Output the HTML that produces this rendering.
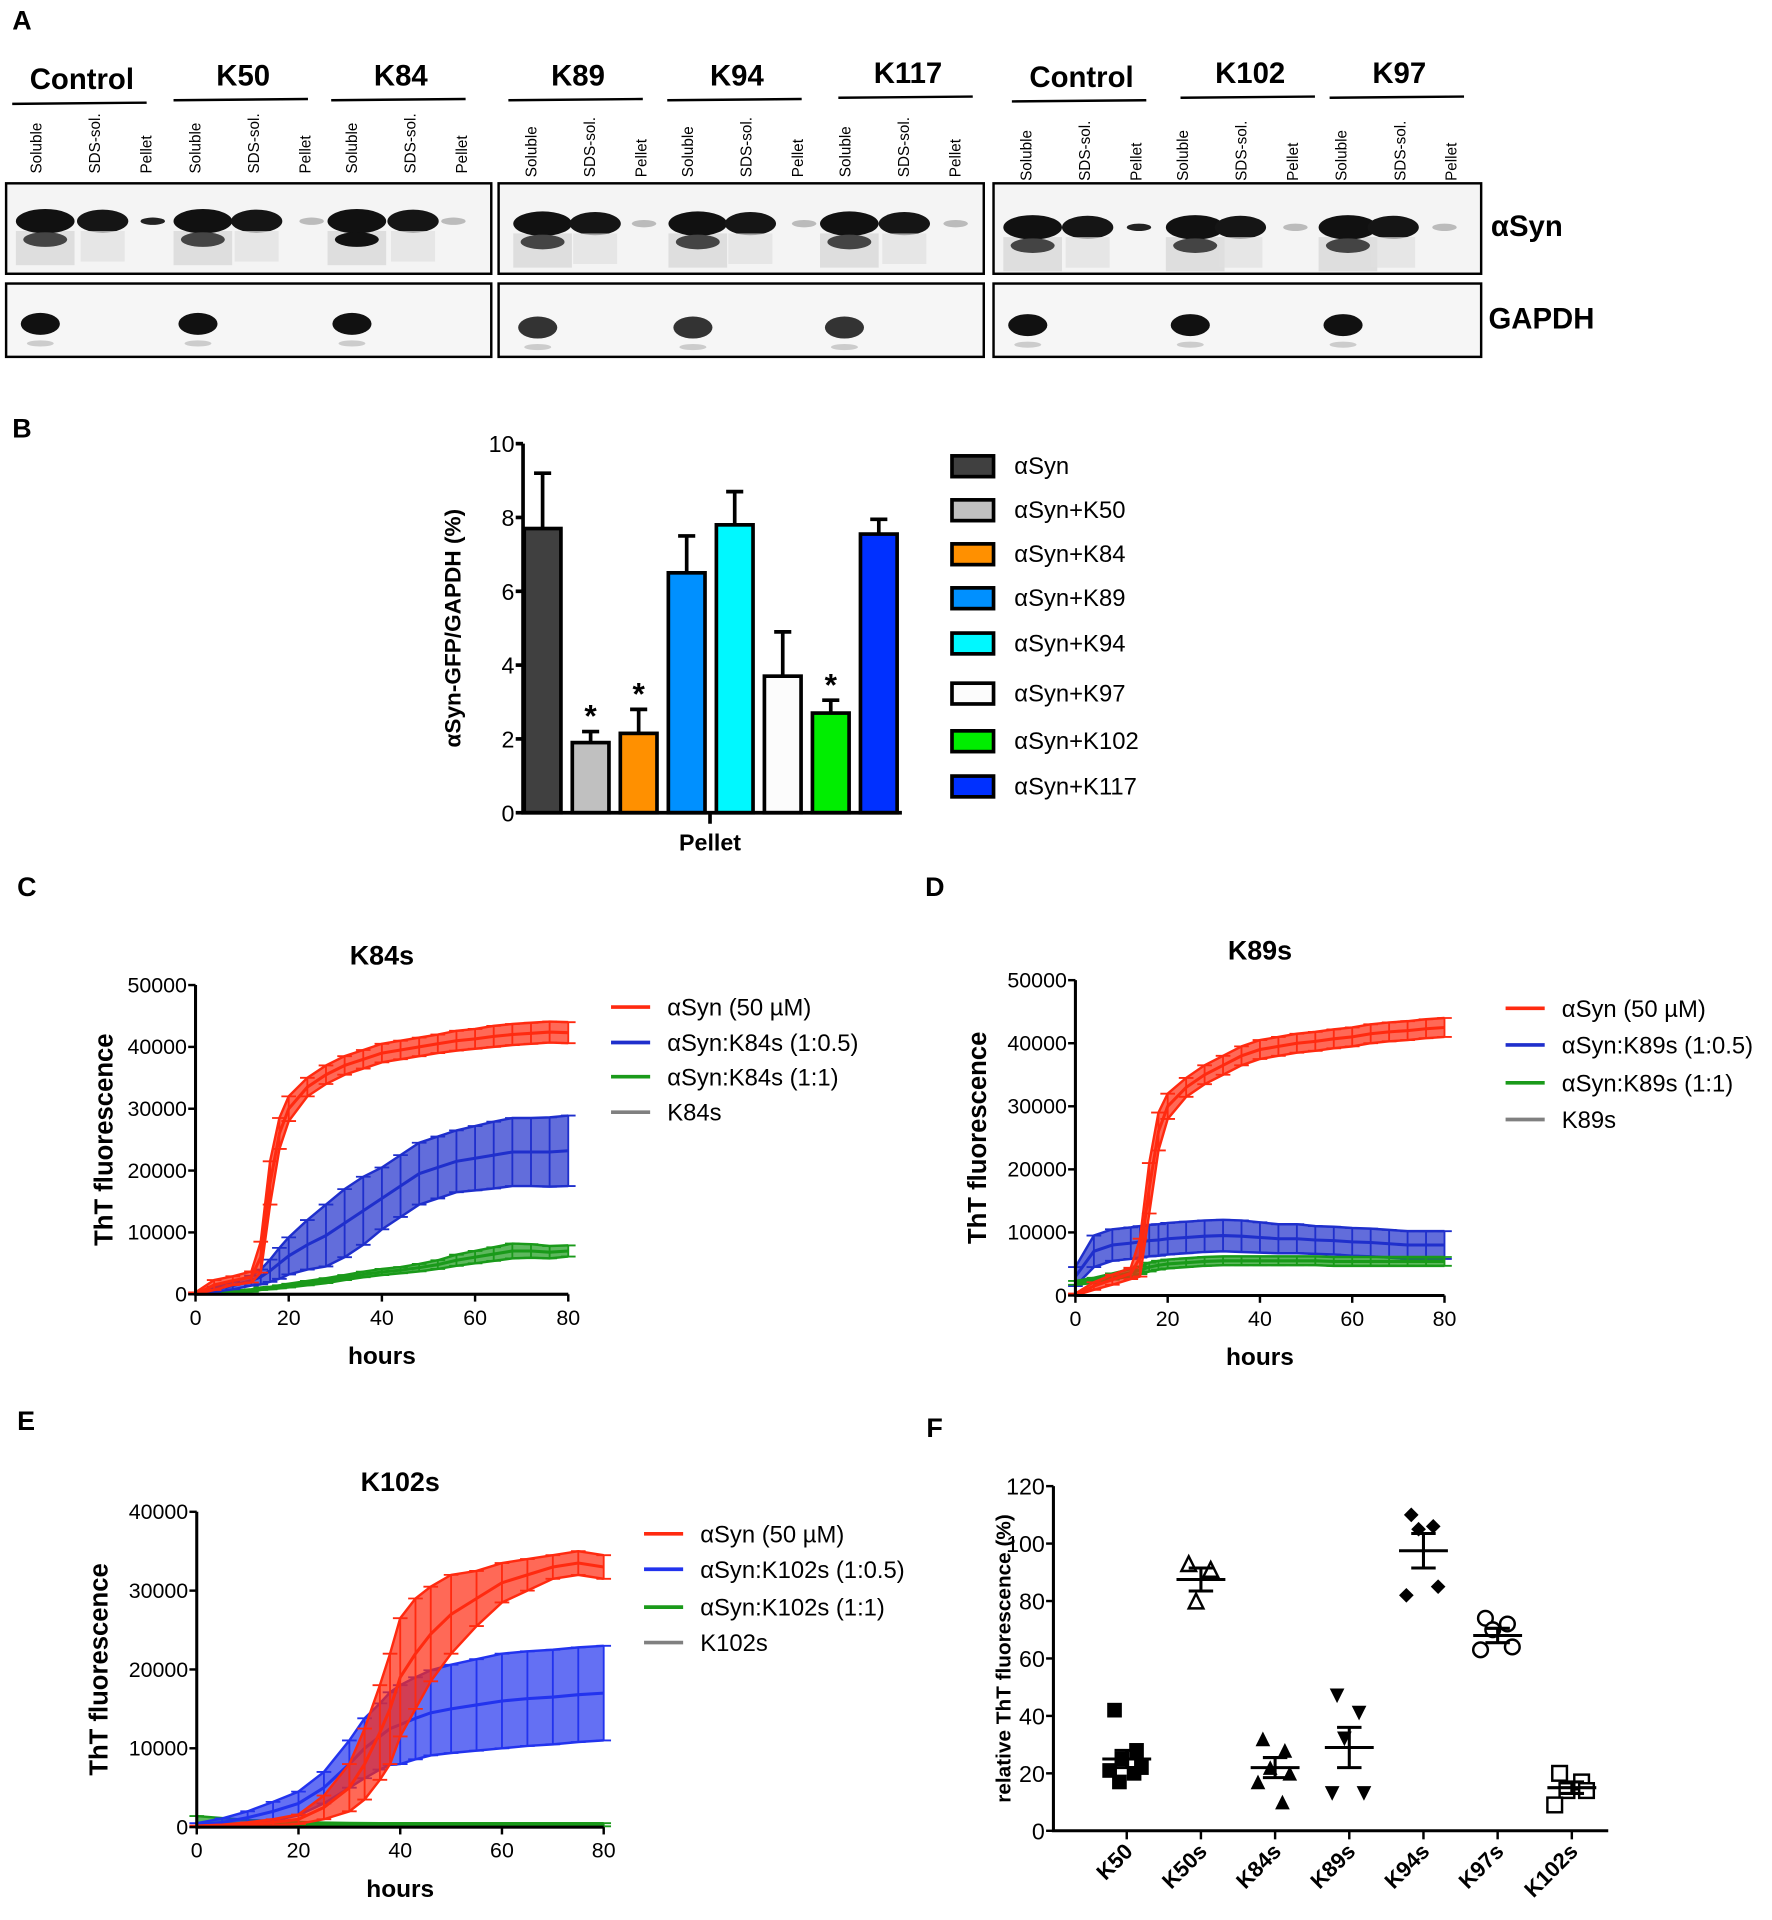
<!DOCTYPE html>
<html><head><meta charset="utf-8"><style>
html,body{margin:0;padding:0;background:#fff}
svg{display:block;font-family:"Liberation Sans",Arial,sans-serif}
</style></head><body>
<svg id="fig" width="1772" height="1920" viewBox="0 0 1450 1571" preserveAspectRatio="none" xmlns="http://www.w3.org/2000/svg">
<rect width="1450" height="1571" fill="#fff"/>
<g id="panelA"></g>
<g id="panelB"></g>
<g id="panelC"></g>
<g id="panelD"></g>
<g id="panelE"></g>
<g id="panelF"></g>
</svg>
<script>
// ---------- Panel B data ----------
const bCats = ["αSyn","αSyn+K50","αSyn+K84","αSyn+K89","αSyn+K94","αSyn+K97","αSyn+K102","αSyn+K117"];
const bVals = [7.7,1.9,2.15,6.5,7.8,3.7,2.7,7.55];
const bErrs = [1.5,0.3,0.65,1.0,0.9,1.2,0.35,0.4];
const bColors = ["#404040","#c0c0c0","#ff9000","#0090ff","#00f8ff","#fcfcfc","#00ee00","#0030ff"];
const bStars = [false,true,true,false,false,false,true,false];
const bTicks = [0,2,4,6,8,10];
// ---------- Panel C data (K84s) ----------
const cT = [0,4,8,12,14,16,18,20,24,28,32,36,40,44,48,52,56,60,64,68,72,76,80];
const cRed = [0,1500,2200,2800,6000,18000,26000,30000,33500,35500,37000,38000,39000,39500,40000,40500,41000,41300,41700,42000,42200,42400,42300];
const cRedErr = [300,800,700,900,2500,3500,2500,2000,1500,1500,1500,1500,1500,1500,1500,1500,1600,1600,1700,1700,1700,1700,1700];
const cBlue = [0,800,1400,2200,2800,3800,5000,6200,8000,9500,11500,13500,15500,17500,19500,20500,21500,22000,22500,23000,23000,23000,23200];
const cBlueErr = [200,400,600,800,1200,1800,2500,3000,4000,5000,5500,5500,5000,5000,5000,5000,5000,5200,5400,5500,5500,5600,5700];
const cGreen = [0,200,400,600,900,1000,1200,1400,1800,2200,2700,3200,3600,3900,4300,4800,5500,6000,6500,7000,7000,6800,7000];
const cGreenErr = [100,100,150,200,200,200,250,300,350,400,400,450,500,500,600,700,900,1000,1100,1200,1100,1000,900];
const cGray = [0,0,0,0,0,0,0,0,0,0,0,0,0,0,0,0,0,0,0,0,0,0,0];
// ---------- Panel D data (K89s) ----------
const dT = [0,4,8,12,14,16,18,20,24,28,32,36,40,44,48,52,56,60,64,68,72,76,80];
const dRed = [0,1500,2500,3500,6000,17000,26000,30000,33000,35000,36500,38000,39000,39500,40000,40300,40700,41000,41500,41800,42000,42300,42500];
const dRedErr = [300,600,800,900,3000,4000,3000,2000,1500,1500,1500,1500,1500,1500,1500,1500,1500,1500,1500,1500,1500,1500,1500];
const dBlue = [3000,7000,8000,8300,8500,8700,8800,9000,9200,9400,9500,9400,9200,9000,9000,8800,8700,8500,8400,8200,8000,8000,8000];
const dBlueErr = [1500,2500,2500,2500,2500,2500,2500,2500,2500,2500,2500,2500,2400,2300,2300,2200,2200,2200,2200,2200,2200,2200,2200];
const dGreen = [2000,2400,3000,3600,4000,4500,4800,5000,5200,5400,5500,5500,5500,5500,5500,5500,5400,5400,5400,5400,5400,5400,5400];
const dGreenErr = [300,400,500,600,600,700,700,700,700,700,700,700,700,700,700,700,700,700,700,700,700,700,700];
const dGray = [0,0,0,0,0,0,0,0,0,0,0,0,0,0,0,0,0,0,0,0,0,0,0];
// ---------- Panel E data (K102s) ----------
const eT = [0,5,10,15,20,25,30,33,36,38,40,43,46,50,55,60,65,70,75,80];
const eRed = [0,100,300,600,1000,2500,5000,8000,12000,15000,19000,22000,24500,27000,29000,31000,32000,33000,33500,33000];
const eRedErr = [200,200,300,400,600,1500,3000,4500,6000,7000,7500,7000,6000,5000,3500,2500,2000,1500,1500,1500];
const eBlue = [200,600,1200,2000,3000,5000,8000,10000,11500,12500,13000,13800,14500,15000,15500,16000,16300,16500,16800,17000];
const eBlueErr = [300,500,800,1200,1500,2000,3000,3800,4200,4600,5000,5200,5400,5600,5800,6000,6000,6000,6000,6000];
const eGreen = [500,450,400,380,350,330,320,310,300,300,300,300,300,300,300,300,300,300,300,300];
const eGreenErr = [900,700,500,400,300,250,200,200,200,200,200,200,200,200,200,200,200,200,200,200];
const eGray = [0,0,0,0,0,0,0,0,0,0,0,0,0,0,0,0,0,0,0,0];
// ---------- Panel F data ----------
const fCats = ["K50","K50s","K84s","K89s","K94s","K97s","K102s"];
const fPoints = [[42,28,25,22,21,20,17],[93,91,80],[32,28,22,20,17,10],[47,41,32,13,13],[110,106,105,85,82],[74,72,70,64,63],[20,17,14,14,9]];
const fMeans = [25,87.5,22,29,97.5,68,15];
const fSems = [3,4,3.5,7,6,2.5,2];
const fMarkers = ["sqf","tro","trf","tdf","dmf","cro","sqo"];
const fTicks = [0,20,40,60,80,100,120];

const NS="http://www.w3.org/2000/svg";
function mk(parent,tag,attrs,text){const e=document.createElementNS(NS,tag);for(const k in attrs)e.setAttribute(k,attrs[k]);if(text!==undefined)e.textContent=text;parent.appendChild(e);return e;}

// ================= Panel A ================
(function(){
const g=document.getElementById('panelA');
const t=mk(g,'text',{x:10,y:24,'font-size':22,'font-weight':'bold'},'A');

const groups=[["Control",67,63,30],["K50",199,60,160],["K84",328,60,288],["K89",473,60,435],["K94",603,60,563],["K117",743,58,692],["Control",885,61,840],["K102",1023,58,968],["K97",1145,58,1098]];
const solX=[37,166,292,444,571,695,845,978,1103];
const sdsX=[84,210,338,487,614,740,890,1015,1140];
const pelX=[125,255,371,527,658,782,932,1060,1182];
groups.forEach((gr,i)=>{
  const h=mk(g,'text',{x:gr[1],y:gr[2]+10,'font-size':24,'font-weight':'bold','text-anchor':'middle'},gr[0]);
  
  const l=mk(g,'line',{x1:gr[1]-57,x2:gr[1]+53,y1:gr[2]+22,y2:gr[2]+21,stroke:'#000','stroke-width':2});
  
  const lx=gr[3];
  const by=i<3?142:(i<6?145:148);
  [["Soluble",lx],["SDS-sol.",lx+48],["Pellet",lx+90]].forEach(p=>{
    const tx=mk(g,'text',{x:0,y:0,'font-size':12.5,'text-anchor':'start',transform:`translate(${p[1]+4},${by}) rotate(-90)`},p[0]);
    
  });
});
[[5,402],[408,805],[813,1212]].forEach((b,i)=>{
  const r1=mk(g,'rect',{x:b[0],y:150,width:b[1]-b[0],height:74,fill:'#f4f4f4',stroke:'#000','stroke-width':2});
  
  const r2=mk(g,'rect',{x:b[0],y:232,width:b[1]-b[0],height:60,fill:'#f6f6f6',stroke:'#000','stroke-width':2});
  
});
for(let i=0;i<9;i++){
  const gy=i<3?181:(i<6?183:186);
  mk(g,'rect',{x:solX[i]-24,y:gy+8,width:48,height:28,fill:'#d4d4d4',opacity:0.7});
  mk(g,'ellipse',{cx:solX[i],cy:gy,rx:24,ry:10,fill:'#111'});
  mk(g,'ellipse',{cx:solX[i],cy:gy+15,rx:18,ry:6,fill:i==2?'#111':'#444'});
  mk(g,'ellipse',{cx:sdsX[i],cy:gy,rx:21,ry:9.5,fill:'#151515'});
  mk(g,'rect',{x:sdsX[i]-18,y:gy+8,width:36,height:25,fill:'#e0e0e0',opacity:0.7});
  mk(g,'ellipse',{cx:pelX[i],cy:gy,rx:10,ry:3,fill:(i==0||i==6)?'#222':'#bbb'});
  const gyy=i<3?265:(i<6?268:266);
  mk(g,'ellipse',{cx:solX[i]-4,cy:gyy,rx:16,ry:9,fill:i>=3&&i<6?'#333':'#111'});
  mk(g,'ellipse',{cx:solX[i]-4,cy:gyy+16,rx:11,ry:2.5,fill:'#ccc'});
}
const a1=mk(g,'text',{x:1220,y:193,'font-size':24,'font-weight':'bold'},'αSyn');
const a2=mk(g,'text',{x:1218,y:269,'font-size':24,'font-weight':'bold'},'GAPDH');
})();

// ================= Panel B ================
(function(){
const g=document.getElementById('panelB');
const x0=428,x1=738,yb=665,yt=363;
const ys=v=>yb-(yb-yt)*v/10;
const pl=mk(g,'text',{x:10,y:358,'font-size':22,'font-weight':'bold'},'B');
bCats.forEach((c,i)=>{
  const cx=444+i*39.3;
  const top=ys(bVals[i]+bErrs[i]);
  const e=mk(g,'path',{d:`M${cx},${ys(bVals[i])}V${top}M${cx-7},${top}H${cx+7}`,stroke:'#000','stroke-width':3,fill:'none'});
  
  const r=mk(g,'rect',{x:cx-15,y:ys(bVals[i]),width:30,height:yb-ys(bVals[i]),fill:bColors[i],stroke:'#000','stroke-width':3});
  
  if(bStars[i]){const s=mk(g,'text',{x:cx,y:top-4,'font-size':26,'font-weight':'bold','text-anchor':'middle'},'*');}
  const ly=381+[0,36,72,108,145,186,225,262][i];
  const lb=mk(g,'rect',{x:779,y:ly-8,width:34,height:17,fill:bColors[i],stroke:'#000','stroke-width':3});
  
  const lt=mk(g,'text',{x:830,y:ly+7,'font-size':19.5},c);
});
const ax=mk(g,'path',{d:`M${x0},${yt}V${yb}H${x1}M581,${yb}v9`,stroke:'#000','stroke-width':3,fill:'none'});

bTicks.forEach(v=>{
  mk(g,'line',{x1:x0-6,x2:x0,y1:ys(v),y2:ys(v),stroke:'#000','stroke-width':3});
  const t=mk(g,'text',{x:x0-7,y:ys(v)+7,'font-size':19,'text-anchor':'end'},v);
});
const xl=mk(g,'text',{x:581,y:696,'font-size':19,'font-weight':'bold','text-anchor':'middle'},'Pellet');
const yl=mk(g,'text',{x:0,y:0,'font-size':18.5,'font-weight':'bold','text-anchor':'middle',transform:'translate(377,514) rotate(-90)'},'αSyn-GFP/GAPDH (%)');
})();

// ================= Kinetic panels ================
function kinetic(id,o){
const g=document.getElementById(id);
const xs=t=>o.x0+(o.x1-o.x0)*t/80, ys=v=>o.y0-(o.y0-o.yt)*v/o.ymax;
const pl=mk(g,'text',{x:o.lx,y:o.ly,'font-size':22,'font-weight':'bold'},o.letter);
const ti=mk(g,'text',{x:(o.x0+o.x1)/2,y:o.yt-17,'font-size':22,'font-weight':'bold','text-anchor':'middle'},o.title);
o.series.forEach(s=>{
  const sg=mk(g,'g',{});
  if(s.err){
    let up='',lo='';
    s.t.forEach((t,i)=>{up+=(i?'L':'M')+xs(t)+','+ys(s.v[i]+s.err[i]);});
    for(let i=s.t.length-1;i>=0;i--)lo+='L'+xs(s.t[i])+','+ys(Math.max(0,s.v[i]-s.err[i]));
    const b=mk(sg,'path',{d:up+lo+'Z',fill:s.c,opacity:0.7});
    s.t.forEach((t,i)=>{
      const x=xs(t),a=ys(s.v[i]+s.err[i]),bb=ys(Math.max(0,s.v[i]-s.err[i]));
      const e=mk(sg,'path',{d:`M${x},${a}V${bb}M${x-6},${a}h12M${x-6},${bb}h12`,stroke:s.c,'stroke-width':1.5,fill:'none'});
      
    });
    let d='';s.t.forEach((t,i)=>{d+=(i?'L':'M')+xs(t)+','+ys(s.v[i]+s.err[i]);});
    mk(sg,'path',{d:d,stroke:s.c,'stroke-width':2,fill:'none'});
    d='';s.t.forEach((t,i)=>{d+=(i?'L':'M')+xs(t)+','+ys(Math.max(0,s.v[i]-s.err[i]));});
    mk(sg,'path',{d:d,stroke:s.c,'stroke-width':2,fill:'none'});
  }
  let d='';s.t.forEach((t,i)=>{d+=(i?'L':'M')+xs(t)+','+ys(s.v[i]);});
  const ln=mk(sg,'path',{d:d,stroke:s.c,'stroke-width':2.5,fill:'none'});
});
const ax=mk(g,'path',{d:`M${o.x0},${o.yt}V${o.y0}H${o.x1}`,stroke:'#000','stroke-width':2.5,fill:'none'});
o.yticks.forEach(v=>{mk(g,'line',{x1:o.x0-6,x2:o.x0,y1:ys(v),y2:ys(v),stroke:'#000','stroke-width':2});
  const t=mk(g,'text',{x:o.x0-7,y:ys(v)+6,'font-size':17.5,'text-anchor':'end'},v);});
[0,20,40,60,80].forEach(v=>{mk(g,'line',{x1:xs(v),x2:xs(v),y1:o.y0,y2:o.y0+6,stroke:'#000','stroke-width':2});
  const t=mk(g,'text',{x:xs(v),y:o.y0+25,'font-size':17.5,'text-anchor':'middle'},v);});
const xl=mk(g,'text',{x:(o.x0+o.x1)/2,y:o.y0+57,'font-size':20,'font-weight':'bold','text-anchor':'middle'},'hours');
const yl=mk(g,'text',{x:0,y:0,'font-size':21,'font-weight':'bold','text-anchor':'middle',transform:`translate(${o.ylx},${(o.y0+o.yt)/2}) rotate(-90)`},'ThT fluorescence');
o.legend.forEach((L,i)=>{
  const y=o.legY[i];
  const lg=mk(g,'g',{});
  mk(lg,'line',{x1:o.legX,x2:o.legX+32,y1:y,y2:y,stroke:L[1],'stroke-width':3});
  mk(lg,'text',{x:o.legX+46,y:y+7,'font-size':19.5},L[0]);
});
}
kinetic('panelC',{letter:'C',lx:14,ly:733,title:'K84s',x0:160,x1:465,y0:1059,yt:806,ymax:50000,yticks:[0,10000,20000,30000,40000,50000],ylx:92,
 series:[{name:'k84s',t:cT,v:cGray,c:'#808080'},{name:'green',t:cT,v:cGreen,err:cGreenErr,c:'#1a9a1a'},{name:'blue',t:cT,v:cBlue,err:cBlueErr,c:'#1f2fcc'},{name:'red',t:cT,v:cRed,err:cRedErr,c:'#ff2a10'}],
 legX:500,legY:[824,853,881,910],legend:[['αSyn (50 µM)','#ff2a10'],['αSyn:K84s (1:0.5)','#1f2fcc'],['αSyn:K84s (1:1)','#1a9a1a'],['K84s','#808080']]});
kinetic('panelD',{letter:'D',lx:757,ly:733,title:'K89s',x0:880,x1:1182,y0:1060,yt:802,ymax:50000,yticks:[0,10000,20000,30000,40000,50000],ylx:807,
 series:[{name:'k89s',t:dT,v:dGray,c:'#808080'},{name:'blue',t:dT,v:dBlue,err:dBlueErr,c:'#1f2fcc'},{name:'green',t:dT,v:dGreen,err:dGreenErr,c:'#1a9a1a'},{name:'red',t:dT,v:dRed,err:dRedErr,c:'#ff2a10'}],
 legX:1232,legY:[825,855,886,916],legend:[['αSyn (50 µM)','#ff2a10'],['αSyn:K89s (1:0.5)','#1f2fcc'],['αSyn:K89s (1:1)','#1a9a1a'],['K89s','#808080']]});
kinetic('panelE',{letter:'E',lx:14,ly:1170,title:'K102s',x0:161,x1:494,y0:1495,yt:1237,ymax:40000,yticks:[0,10000,20000,30000,40000],ylx:88,
 series:[{name:'k102s',t:eT,v:eGray,c:'#808080'},{name:'green',t:eT,v:eGreen,err:eGreenErr,c:'#1a9a1a'},{name:'blue',t:eT,v:eBlue,err:eBlueErr,c:'#2233ee'},{name:'red',t:eT,v:eRed,err:eRedErr,c:'#ff2a10'}],
 legX:527,legY:[1255,1284,1315,1344],legend:[['αSyn (50 µM)','#ff2a10'],['αSyn:K102s (1:0.5)','#2233ee'],['αSyn:K102s (1:1)','#1a9a1a'],['K102s','#808080']]});

// ================= Panel F ================
(function(){
const g=document.getElementById('panelF');
const x0=862,x1=1316,y0=1498,yt=1216;
const ys=v=>y0-(y0-yt)*v/120;
const xc=i=>922+i*60.7;
const pl=mk(g,'text',{x:758,y:1176,'font-size':22,'font-weight':'bold'},'F');
const offs=[-10,8,-4,12,-14,6,-6];
fCats.forEach((c,i)=>{
  const cg=mk(g,'g',{});
  fPoints[i].forEach((v,j)=>{
    const x=xc(i)+offs[j%offs.length],y=ys(v),m=fMarkers[i],s=6;
    let e;
    if(m==='sqf')e=mk(cg,'rect',{x:x-s,y:y-s,width:2*s,height:2*s,fill:'#000'});
    else if(m==='sqo')e=mk(cg,'rect',{x:x-s,y:y-s,width:2*s,height:2*s,fill:'#fff',stroke:'#000','stroke-width':2});
    else if(m==='tro')e=mk(cg,'path',{d:`M${x},${y-s}L${x+s},${y+s}L${x-s},${y+s}Z`,fill:'#fff',stroke:'#000','stroke-width':2});
    else if(m==='trf')e=mk(cg,'path',{d:`M${x},${y-s}L${x+s},${y+s}L${x-s},${y+s}Z`,fill:'#000'});
    else if(m==='tdf')e=mk(cg,'path',{d:`M${x-s},${y-s}L${x+s},${y-s}L${x},${y+s}Z`,fill:'#000'});
    else if(m==='dmf')e=mk(cg,'path',{d:`M${x},${y-s}L${x+s},${y}L${x},${y+s}L${x-s},${y}Z`,fill:'#000'});
    else e=mk(cg,'circle',{cx:x,cy:y,r:s,fill:'#fff',stroke:'#000','stroke-width':2});
    
  });
  const x=xc(i),m=ys(fMeans[i]),a=ys(fMeans[i]+fSems[i]),b=ys(fMeans[i]-fSems[i]);
  const mb=mk(cg,'path',{d:`M${x-20},${m}h40M${x-10},${a}h20M${x-10},${b}h20M${x},${a}V${b}`,stroke:'#000','stroke-width':2.5,fill:'none'});
  
  mk(g,'line',{x1:x,x2:x,y1:y0,y2:y0+7,stroke:'#000','stroke-width':2});
  const t=mk(g,'text',{x:0,y:0,'font-size':18,'font-weight':'bold','text-anchor':'end',transform:`translate(${x+6},${y0+18}) rotate(-45)`},c);
  
});
const ax=mk(g,'path',{d:`M${x0},${yt}V${y0}H${x1}`,stroke:'#000','stroke-width':2.5,fill:'none'});
fTicks.forEach(v=>{mk(g,'line',{x1:x0-6,x2:x0,y1:ys(v),y2:ys(v),stroke:'#000','stroke-width':2});
  const t=mk(g,'text',{x:x0-7,y:ys(v)+7,'font-size':19,'text-anchor':'end'},v);});
const yl=mk(g,'text',{x:0,y:0,'font-size':17,'font-weight':'bold','text-anchor':'middle',transform:'translate(827,1357) rotate(-90)'},'relative ThT fluorescence (%)');
})();
</script>
</body></html>
